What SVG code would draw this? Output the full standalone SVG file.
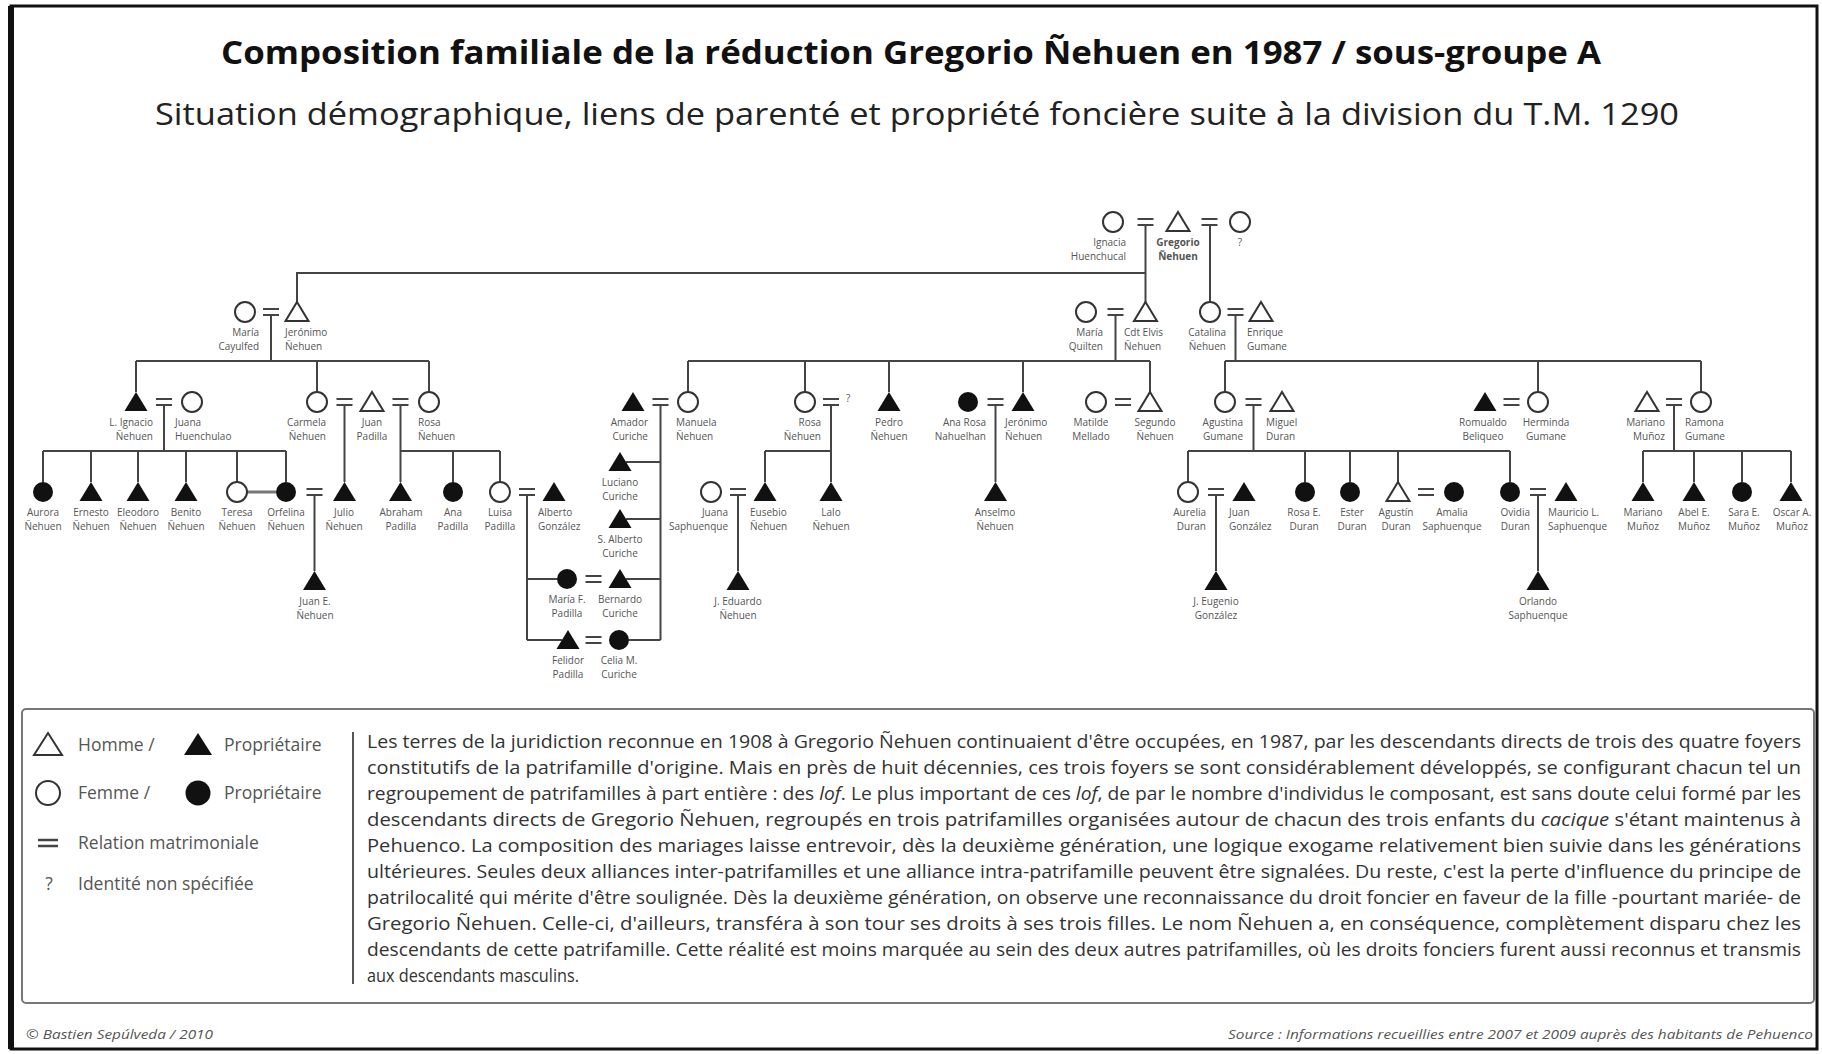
<svg xmlns="http://www.w3.org/2000/svg" xmlns:xlink="http://www.w3.org/1999/xlink" width="1822" height="1054" viewBox="0 0 1822 1054">
<style>
.ln{fill:none;stroke:#444;stroke-width:2}
.eq line{stroke:#444;stroke-width:2}
.o{fill:#fff;stroke:#333;stroke-width:2}
.f{fill:#111;stroke:none}
text{font-family:'Open Sans','Liberation Sans',sans-serif}
.lb{font-size:10px;fill:#555}
.s{text-anchor:start}.e{text-anchor:end}.m{text-anchor:middle}
.leg{font-size:17.5px;fill:#555}
.para{font-size:17.5px;fill:#333}
.foot{font-size:12.5px;fill:#555;font-style:italic}
</style>
<defs>
<polygon id="T" points="0,-10 11.5,9 -11.5,9"/>
<circle id="C" r="10"/>
<g id="EQ" class="eq"><line x1="-8" y1="-3" x2="8" y2="-3"/><line x1="-8" y1="3" x2="8" y2="3"/></g>
</defs>
<rect x="0" y="0" width="1822" height="1054" fill="#fff"/>
<rect x="11" y="6" width="1806" height="1043" fill="none" stroke="#111" stroke-width="3"/>
<line x1="11" y1="6" x2="11" y2="1049" stroke="#111" stroke-width="6"/>

<text x="911" y="64" class="m" font-size="32" font-weight="bold" fill="#111" textLength="1380" lengthAdjust="spacingAndGlyphs">Composition familiale de la réduction Gregorio Ñehuen en 1987 / sous-groupe A</text>
<text x="917" y="125" class="m" font-size="31" fill="#222" textLength="1524" lengthAdjust="spacingAndGlyphs">Situation démographique, liens de parenté et propriété foncière suite à la division du T.M. 1290</text>

<g id="connectors">
<path class="ln" d="M1145.5,225V302M1145.5,273H297V302M1210,225V302"/>
<path class="ln" d="M271,315V361M136,361H429M136,361V392M317,361V392M429,361V392"/>
<path class="ln" d="M1115.5,315V361M688,361H1150M688,361V392M805,361V392M889,361V392M1023,361V392M1150,361V392"/>
<path class="ln" d="M1235.5,315V361M1225,361H1701M1225,361V392M1538,361V392M1701,361V392"/>
<path class="ln" d="M164,405V451M43,451H286M43,451V482M91,451V482M138,451V482M186,451V482M237,451V482M286,451V482"/>
<path class="ln" d="M344.5,405V482"/>
<path class="ln" d="M400.5,405V482M400.5,451H500M453,451V482M500,451V482"/>
<path class="ln" d="M660.5,405V640M626,462H660.5M626,519H660.5M626,579H660.5M629,640H660.5"/>
<path class="ln" d="M527,495V640M527,579H557M527,640H562"/>
<path class="ln" d="M831,405V482M765,451H831M765,451V482"/>
<path class="ln" d="M995.5,405V482"/>
<path class="ln" d="M1253.5,405V451M1188,451H1510M1188,451V482M1305,451V482M1350,451V482M1398,451V482M1510,451V482"/>
<path class="ln" d="M1674,405V451M1643,451H1791M1643,451V482M1694,451V482M1742,451V482M1791,451V482"/>
<path class="ln" d="M314.5,495V571M738,495V571M1216,495V571M1538,495V571"/>
<line x1="247" y1="492" x2="276" y2="492" stroke="#777" stroke-width="3"/>
</g>

<g id="marriages">
<use href="#EQ" x="1145.5" y="222"/><use href="#EQ" x="1209.5" y="222"/>
<use href="#EQ" x="271" y="312"/><use href="#EQ" x="1115.5" y="312"/><use href="#EQ" x="1235.5" y="312"/>
<use href="#EQ" x="164" y="402"/><use href="#EQ" x="344.5" y="402"/><use href="#EQ" x="400.5" y="402"/>
<use href="#EQ" x="660.5" y="402"/><use href="#EQ" x="831" y="402"/><use href="#EQ" x="995.5" y="402"/>
<use href="#EQ" x="1123" y="402"/><use href="#EQ" x="1253.5" y="402"/><use href="#EQ" x="1511.5" y="402"/><use href="#EQ" x="1674" y="402"/>
<use href="#EQ" x="314.5" y="492"/><use href="#EQ" x="527" y="492"/><use href="#EQ" x="738" y="492"/>
<use href="#EQ" x="1216" y="492"/><use href="#EQ" x="1426" y="492"/><use href="#EQ" x="1538" y="492"/>
<use href="#EQ" x="593.5" y="579"/><use href="#EQ" x="593.5" y="640"/>
</g>

<!-- Generation 1 -->
<g id="n-ignacia"><use href="#C" class="o" x="1113" y="222"/><text class="lb e" x="1126" y="246">Ignacia<tspan x="1126" dy="14">Huenchucal</tspan></text></g>
<g id="n-gregorio"><use href="#T" class="o" x="1178" y="222"/><text class="lb m" x="1178" y="246" font-weight="bold" fill="#333">Gregorio<tspan x="1178" dy="14">Ñehuen</tspan></text></g>
<g id="n-epouse2"><use href="#C" class="o" x="1240" y="222"/><text class="lb m" x="1240" y="246">?</text></g>

<!-- Generation 2 -->
<g id="n-maria-cayulfed"><use href="#C" class="o" x="245" y="312"/><text class="lb e" x="259" y="336">María<tspan x="259" dy="14">Cayulfed</tspan></text></g>
<g id="n-jeronimo"><use href="#T" class="o" x="297" y="312"/><text class="lb s" x="285" y="336">Jerónimo<tspan x="285" dy="14">Ñehuen</tspan></text></g>
<g id="n-maria-quilten"><use href="#C" class="o" x="1086" y="312"/><text class="lb e" x="1103" y="336">María<tspan x="1103" dy="14">Quilten</tspan></text></g>
<g id="n-cdt-elvis"><use href="#T" class="o" x="1145.5" y="312"/><text class="lb s" x="1124" y="336">Cdt Elvis<tspan x="1124" dy="14">Ñehuen</tspan></text></g>
<g id="n-catalina"><use href="#C" class="o" x="1210" y="312"/><text class="lb e" x="1226" y="336">Catalina<tspan x="1226" dy="14">Ñehuen</tspan></text></g>
<g id="n-enrique"><use href="#T" class="o" x="1261" y="312"/><text class="lb s" x="1247" y="336">Enrique<tspan x="1247" dy="14">Gumane</tspan></text></g>

<!-- Generation 3 -->
<g id="n-l-ignacio"><use href="#T" class="f" x="136" y="402"/><text class="lb e" x="153" y="426">L. Ignacio<tspan x="153" dy="14">Ñehuen</tspan></text></g>
<g id="n-juana-h"><use href="#C" class="o" x="192" y="402"/><text class="lb s" x="175" y="426">Juana<tspan x="175" dy="14">Huenchulao</tspan></text></g>
<g id="n-carmela"><use href="#C" class="o" x="317" y="402"/><text class="lb e" x="326" y="426">Carmela<tspan x="326" dy="14">Ñehuen</tspan></text></g>
<g id="n-juan-padilla"><use href="#T" class="o" x="372" y="402"/><text class="lb m" x="372" y="426">Juan<tspan x="372" dy="14">Padilla</tspan></text></g>
<g id="n-rosa-1"><use href="#C" class="o" x="429" y="402"/><text class="lb s" x="418" y="426">Rosa<tspan x="418" dy="14">Ñehuen</tspan></text></g>
<g id="n-amador"><use href="#T" class="f" x="633" y="402"/><text class="lb e" x="648" y="426">Amador<tspan x="648" dy="14">Curiche</tspan></text></g>
<g id="n-manuela"><use href="#C" class="o" x="688" y="402"/><text class="lb s" x="676" y="426">Manuela<tspan x="676" dy="14">Ñehuen</tspan></text></g>
<g id="n-rosa-2"><use href="#C" class="o" x="805" y="402"/><text class="lb e" x="821" y="426">Rosa<tspan x="821" dy="14">Ñehuen</tspan></text></g>
<g id="n-conjoint-rosa"><text class="lb s" x="846" y="402">?</text></g>
<g id="n-pedro"><use href="#T" class="f" x="889" y="402"/><text class="lb m" x="889" y="426">Pedro<tspan x="889" dy="14">Ñehuen</tspan></text></g>
<g id="n-ana-rosa"><use href="#C" class="f" x="968" y="402"/><text class="lb e" x="986" y="426">Ana Rosa<tspan x="986" dy="14">Nahuelhan</tspan></text></g>
<g id="n-jeronimo-2"><use href="#T" class="f" x="1023" y="402"/><text class="lb s" x="1005" y="426">Jerónimo<tspan x="1005" dy="14">Ñehuen</tspan></text></g>
<g id="n-matilde"><use href="#C" class="o" x="1096" y="402"/><text class="lb m" x="1091" y="426">Matilde<tspan x="1091" dy="14">Mellado</tspan></text></g>
<g id="n-segundo"><use href="#T" class="o" x="1150" y="402"/><text class="lb m" x="1155" y="426">Segundo<tspan x="1155" dy="14">Ñehuen</tspan></text></g>
<g id="n-agustina"><use href="#C" class="o" x="1225" y="402"/><text class="lb e" x="1243" y="426">Agustina<tspan x="1243" dy="14">Gumane</tspan></text></g>
<g id="n-miguel"><use href="#T" class="o" x="1282" y="402"/><text class="lb s" x="1266" y="426">Miguel<tspan x="1266" dy="14">Duran</tspan></text></g>
<g id="n-romualdo"><use href="#T" class="f" x="1485" y="402"/><text class="lb m" x="1483" y="426">Romualdo<tspan x="1483" dy="14">Beliqueo</tspan></text></g>
<g id="n-herminda"><use href="#C" class="o" x="1538" y="402"/><text class="lb m" x="1546" y="426">Herminda<tspan x="1546" dy="14">Gumane</tspan></text></g>
<g id="n-mariano"><use href="#T" class="o" x="1647" y="402"/><text class="lb e" x="1665" y="426">Mariano<tspan x="1665" dy="14">Muñoz</tspan></text></g>
<g id="n-ramona"><use href="#C" class="o" x="1701" y="402"/><text class="lb s" x="1685" y="426">Ramona<tspan x="1685" dy="14">Gumane</tspan></text></g>

<!-- Generation 4 -->
<g id="n-aurora"><use href="#C" class="f" x="43" y="492"/><text class="lb m" x="43" y="516">Aurora<tspan x="43" dy="14">Ñehuen</tspan></text></g>
<g id="n-ernesto"><use href="#T" class="f" x="91" y="492"/><text class="lb m" x="91" y="516">Ernesto<tspan x="91" dy="14">Ñehuen</tspan></text></g>
<g id="n-eleodoro"><use href="#T" class="f" x="138" y="492"/><text class="lb m" x="138" y="516">Eleodoro<tspan x="138" dy="14">Ñehuen</tspan></text></g>
<g id="n-benito"><use href="#T" class="f" x="186" y="492"/><text class="lb m" x="186" y="516">Benito<tspan x="186" dy="14">Ñehuen</tspan></text></g>
<g id="n-teresa"><use href="#C" class="o" x="237" y="492"/><text class="lb m" x="237" y="516">Teresa<tspan x="237" dy="14">Ñehuen</tspan></text></g>
<g id="n-orfelina"><use href="#C" class="f" x="286" y="492"/><text class="lb m" x="286" y="516">Orfelina<tspan x="286" dy="14">Ñehuen</tspan></text></g>
<g id="n-julio"><use href="#T" class="f" x="344.5" y="492"/><text class="lb m" x="344" y="516">Julio<tspan x="344" dy="14">Ñehuen</tspan></text></g>
<g id="n-abraham"><use href="#T" class="f" x="400.5" y="492"/><text class="lb m" x="401" y="516">Abraham<tspan x="401" dy="14">Padilla</tspan></text></g>
<g id="n-ana-padilla"><use href="#C" class="f" x="453" y="492"/><text class="lb m" x="453" y="516">Ana<tspan x="453" dy="14">Padilla</tspan></text></g>
<g id="n-luisa"><use href="#C" class="o" x="500" y="492"/><text class="lb m" x="500" y="516">Luisa<tspan x="500" dy="14">Padilla</tspan></text></g>
<g id="n-alberto"><use href="#T" class="f" x="554" y="492"/><text class="lb s" x="538" y="516">Alberto<tspan x="538" dy="14">González</tspan></text></g>
<g id="n-luciano"><use href="#T" class="f" x="620" y="462"/><text class="lb m" x="620" y="486">Luciano<tspan x="620" dy="14">Curiche</tspan></text></g>
<g id="n-s-alberto"><use href="#T" class="f" x="620" y="519"/><text class="lb m" x="620" y="543">S. Alberto<tspan x="620" dy="14">Curiche</tspan></text></g>
<g id="n-maria-f"><use href="#C" class="f" x="567" y="579"/><text class="lb m" x="567" y="603">María F.<tspan x="567" dy="14">Padilla</tspan></text></g>
<g id="n-bernardo"><use href="#T" class="f" x="620" y="579"/><text class="lb m" x="620" y="603">Bernardo<tspan x="620" dy="14">Curiche</tspan></text></g>
<g id="n-felidor"><use href="#T" class="f" x="568" y="640"/><text class="lb m" x="568" y="664">Felidor<tspan x="568" dy="14">Padilla</tspan></text></g>
<g id="n-celia"><use href="#C" class="f" x="619" y="640"/><text class="lb m" x="619" y="664">Celia M.<tspan x="619" dy="14">Curiche</tspan></text></g>
<g id="n-juana-s"><use href="#C" class="o" x="711" y="492"/><text class="lb e" x="728" y="516">Juana<tspan x="728" dy="14">Saphuenque</tspan></text></g>
<g id="n-eusebio"><use href="#T" class="f" x="765" y="492"/><text class="lb s" x="750" y="516">Eusebio<tspan x="750" dy="14">Ñehuen</tspan></text></g>
<g id="n-lalo"><use href="#T" class="f" x="831" y="492"/><text class="lb m" x="831" y="516">Lalo<tspan x="831" dy="14">Ñehuen</tspan></text></g>
<g id="n-anselmo"><use href="#T" class="f" x="995.5" y="492"/><text class="lb m" x="995" y="516">Anselmo<tspan x="995" dy="14">Ñehuen</tspan></text></g>
<g id="n-aurelia"><use href="#C" class="o" x="1188" y="492"/><text class="lb e" x="1206" y="516">Aurelia<tspan x="1206" dy="14">Duran</tspan></text></g>
<g id="n-juan-g"><use href="#T" class="f" x="1244" y="492"/><text class="lb s" x="1229" y="516">Juan<tspan x="1229" dy="14">González</tspan></text></g>
<g id="n-rosa-e"><use href="#C" class="f" x="1305" y="492"/><text class="lb m" x="1304" y="516">Rosa E.<tspan x="1304" dy="14">Duran</tspan></text></g>
<g id="n-ester"><use href="#C" class="f" x="1350" y="492"/><text class="lb m" x="1352" y="516">Ester<tspan x="1352" dy="14">Duran</tspan></text></g>
<g id="n-agustin"><use href="#T" class="o" x="1398" y="492"/><text class="lb m" x="1396" y="516">Agustín<tspan x="1396" dy="14">Duran</tspan></text></g>
<g id="n-amalia"><use href="#C" class="f" x="1454" y="492"/><text class="lb m" x="1452" y="516">Amalia<tspan x="1452" dy="14">Saphuenque</tspan></text></g>
<g id="n-ovidia"><use href="#C" class="f" x="1510" y="492"/><text class="lb e" x="1530" y="516">Ovidia<tspan x="1530" dy="14">Duran</tspan></text></g>
<g id="n-mauricio"><use href="#T" class="f" x="1566" y="492"/><text class="lb s" x="1548" y="516">Mauricio L.<tspan x="1548" dy="14">Saphuenque</tspan></text></g>
<g id="n-mariano-munoz"><use href="#T" class="f" x="1643" y="492"/><text class="lb m" x="1643" y="516">Mariano<tspan x="1643" dy="14">Muñoz</tspan></text></g>
<g id="n-abel"><use href="#T" class="f" x="1694" y="492"/><text class="lb m" x="1694" y="516">Abel E.<tspan x="1694" dy="14">Muñoz</tspan></text></g>
<g id="n-sara"><use href="#C" class="f" x="1742" y="492"/><text class="lb m" x="1744" y="516">Sara E.<tspan x="1744" dy="14">Muñoz</tspan></text></g>
<g id="n-oscar"><use href="#T" class="f" x="1791" y="492"/><text class="lb m" x="1792" y="516">Oscar A.<tspan x="1792" dy="14">Muñoz</tspan></text></g>

<!-- Generation 5 -->
<g id="n-juan-e"><use href="#T" class="f" x="314.5" y="581"/><text class="lb m" x="315" y="605">Juan E.<tspan x="315" dy="14">Ñehuen</tspan></text></g>
<g id="n-j-eduardo"><use href="#T" class="f" x="738" y="581"/><text class="lb m" x="738" y="605">J. Eduardo<tspan x="738" dy="14">Ñehuen</tspan></text></g>
<g id="n-j-eugenio"><use href="#T" class="f" x="1216" y="581"/><text class="lb m" x="1216" y="605">J. Eugenio<tspan x="1216" dy="14">González</tspan></text></g>
<g id="n-orlando"><use href="#T" class="f" x="1538" y="581"/><text class="lb m" x="1538" y="605">Orlando<tspan x="1538" dy="14">Saphuenque</tspan></text></g>

<!-- Legend and text -->
<g id="legend">
<rect x="22" y="709" width="1792" height="294" rx="4" fill="none" stroke="#777" stroke-width="2"/>
<polygon points="48,733 62,755 34,755" class="o"/>
<text class="leg" x="78" y="751">Homme  /</text>
<polygon points="198,733 212,755 184,755" class="f"/>
<text class="leg" x="224" y="751">Propriétaire</text>
<circle cx="48" cy="793" r="12" class="o"/>
<text class="leg" x="78" y="799">Femme  /</text>
<circle cx="198" cy="793" r="12.5" class="f"/>
<text class="leg" x="224" y="799">Propriétaire</text>
<line x1="38" y1="840" x2="58" y2="840" stroke="#444" stroke-width="2.5"/>
<line x1="38" y1="846" x2="58" y2="846" stroke="#444" stroke-width="2.5"/>
<text class="leg" x="78" y="849">Relation matrimoniale</text>
<text class="leg m" x="49" y="890" font-size="15">?</text>
<text class="leg" x="78" y="890">Identité non spécifiée</text>
<line x1="353" y1="732" x2="353" y2="984" stroke="#555" stroke-width="2"/>
</g>
<g id="paragraph">
<text class="para" x="367" y="748" textLength="1434" lengthAdjust="spacingAndGlyphs">Les terres de la juridiction reconnue en 1908 à Gregorio Ñehuen continuaient d'être occupées, en 1987, par les descendants directs de trois des quatre foyers</text>
<text class="para" x="367" y="774" textLength="1434" lengthAdjust="spacingAndGlyphs">constitutifs de la patrifamille d'origine. Mais en près de huit décennies, ces trois foyers se sont considérablement développés, se configurant chacun tel un</text>
<text class="para" x="367" y="800" textLength="1434" lengthAdjust="spacingAndGlyphs">regroupement de patrifamilles à part entière : des <tspan font-style="italic">lof</tspan>. Le plus important de ces <tspan font-style="italic">lof</tspan>, de par le nombre d'individus le composant, est sans doute celui formé par les</text>
<text class="para" x="367" y="826" textLength="1434" lengthAdjust="spacingAndGlyphs">descendants directs de Gregorio Ñehuen, regroupés en trois patrifamilles organisées autour de chacun des trois enfants du <tspan font-style="italic">cacique</tspan> s'étant maintenus à</text>
<text class="para" x="367" y="852" textLength="1434" lengthAdjust="spacingAndGlyphs">Pehuenco. La composition des mariages laisse entrevoir, dès la deuxième génération, une logique exogame relativement bien suivie dans les générations</text>
<text class="para" x="367" y="878" textLength="1434" lengthAdjust="spacingAndGlyphs">ultérieures. Seules deux alliances inter-patrifamilles et une alliance intra-patrifamille peuvent être signalées. Du reste, c'est la perte d'influence du principe de</text>
<text class="para" x="367" y="904" textLength="1434" lengthAdjust="spacingAndGlyphs">patrilocalité qui mérite d'être soulignée. Dès la deuxième génération, on observe une reconnaissance du droit foncier en faveur de la fille -pourtant mariée- de</text>
<text class="para" x="367" y="930" textLength="1434" lengthAdjust="spacingAndGlyphs">Gregorio Ñehuen. Celle-ci, d'ailleurs, transféra à son tour ses droits à ses trois filles. Le nom Ñehuen a, en conséquence, complètement disparu chez les</text>
<text class="para" x="367" y="956" textLength="1434" lengthAdjust="spacingAndGlyphs">descendants de cette patrifamille. Cette réalité est moins marquée au sein des deux autres patrifamilles, où les droits fonciers furent aussi reconnus et transmis</text>
<text class="para" x="367" y="982" textLength="212" lengthAdjust="spacingAndGlyphs">aux descendants masculins.</text>
</g>
<g id="footer">
<text class="foot" x="26" y="1039" textLength="187" lengthAdjust="spacingAndGlyphs">© Bastien Sepúlveda / 2010</text>
<text class="foot e" x="1813" y="1039" textLength="585" lengthAdjust="spacingAndGlyphs">Source : Informations recueillies entre 2007 et 2009 auprès des habitants de Pehuenco</text>
</g>
</svg>
